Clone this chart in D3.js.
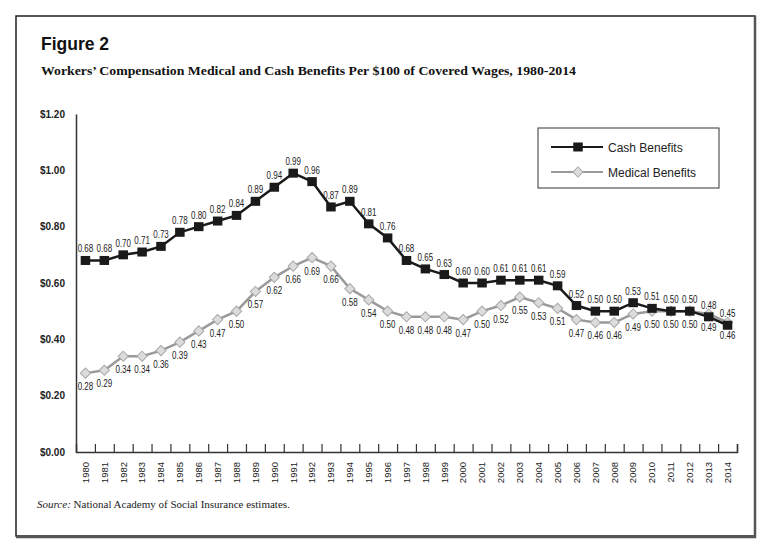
<!DOCTYPE html>
<html>
<head>
<meta charset="utf-8">
<script src="https://cdn.jsdelivr.net/npm/d3@7"></script>
<style>
  body { margin: 0; background: #fff; }
  svg { display: block; }
</style>
</head>
<body>
<script>
// chart data
const years = ["1980", "1981", "1982", "1983", "1984", "1985", "1986", "1987", "1988", "1989",
  "1990", "1991", "1992", "1993", "1994", "1995", "1996", "1997", "1998", "1999",
  "2000", "2001", "2002", "2003", "2004", "2005", "2006", "2007", "2008", "2009",
  "2010", "2011", "2012", "2013", "2014"];
const cash = [0.68, 0.68, 0.70, 0.71, 0.73, 0.78, 0.80, 0.82, 0.84, 0.89,
  0.94, 0.99, 0.96, 0.87, 0.89, 0.81, 0.76, 0.68, 0.65, 0.63,
  0.60, 0.60, 0.61, 0.61, 0.61, 0.59, 0.52, 0.50, 0.50, 0.53,
  0.51, 0.50, 0.50, 0.48, 0.45];
const medical = [0.28, 0.29, 0.34, 0.34, 0.36, 0.39, 0.43, 0.47, 0.50, 0.57,
  0.62, 0.66, 0.69, 0.66, 0.58, 0.54, 0.50, 0.48, 0.48, 0.48,
  0.47, 0.50, 0.52, 0.55, 0.53, 0.51, 0.47, 0.46, 0.46, 0.49,
  0.50, 0.50, 0.50, 0.49, 0.46];
const yTicks = [0, 0.2, 0.4, 0.6, 0.8, 1.0, 1.2];
const seriesNames = ["Cash Benefits", "Medical Benefits"];

const W = 778, H = 550;
const svg = d3.select("body").append("svg")
    .attr("width", W)
    .attr("height", H);

// outer frame, darker right/bottom edge
svg.append("rect")
    .attr("x", 16).attr("y", 16)
    .attr("width", 739).attr("height", 520)
    .attr("fill", "none")
    .attr("stroke", "#222")
    .attr("stroke-width", 1.5);
svg.append("path")
    .attr("d", "M755,16 V537 H16")
    .attr("fill", "none")
    .attr("stroke", "#555")
    .attr("stroke-width", 2.5);

// titles
svg.append("text")
    .attr("x", 41).attr("y", 50)
    .attr("font-family", "Liberation Sans, Arial, sans-serif")
    .attr("font-weight", "bold")
    .attr("font-size", 17.5)
    .attr("fill", "#111")
    .text("Figure 2");

svg.append("text")
    .attr("x", 41).attr("y", 75)
    .attr("font-family", "Liberation Serif, Times New Roman, serif")
    .attr("font-weight", "bold")
    .attr("font-size", 13.5)
    .attr("fill", "#111")
    .attr("textLength", 535)
    .attr("lengthAdjust", "spacingAndGlyphs")
    .text("Workers\u2019 Compensation Medical and Cash Benefits Per $100 of Covered Wages, 1980-2014");

const src = svg.append("text")
    .attr("x", 37).attr("y", 508)
    .attr("font-family", "Liberation Serif, Times New Roman, serif")
    .attr("font-size", 11)
    .attr("fill", "#222");
src.append("tspan").attr("font-style", "italic").text("Source:");
src.append("tspan").text(" National Academy of Social Insurance estimates.");

// scales
const plotLeft = 76, plotRight = 737, plotTop = 114, plotBottom = 452;
const x = d3.scaleBand().domain(years).range([plotLeft, plotRight]).padding(0);
const y = d3.scaleLinear().domain([0, 1.2]).range([plotBottom, plotTop]);
const xEdge = d3.scaleLinear().domain([0, years.length]).range([plotLeft, plotRight]);

// y axis
const yAxis = svg.append("g")
    .attr("transform", "translate(" + plotLeft + ",0)")
    .call(d3.axisLeft(y).tickValues(yTicks).tickSize(0).tickPadding(11)
        .tickFormat(d => "$" + d.toFixed(2)));
yAxis.select(".domain").attr("stroke", "#333").attr("stroke-width", 1.5);
yAxis.selectAll("text")
    .attr("font-family", "Liberation Sans, Arial, sans-serif")
    .attr("font-weight", "bold")
    .attr("font-size", 10)
    .attr("fill", "#222");

// x axis ticks at category edges
const xTicks = svg.append("g")
    .attr("transform", "translate(0," + plotBottom + ")")
    .call(d3.axisTop(xEdge).tickValues(d3.range(1, years.length + 1)).tickSize(8).tickFormat(""));
xTicks.select(".domain").attr("stroke", "#333").attr("stroke-width", 1.5);
xTicks.selectAll(".tick line").attr("stroke", "#333").attr("stroke-width", 1.2);

// x axis year labels
const xAxis = svg.append("g")
    .attr("transform", "translate(0," + plotBottom + ")")
    .call(d3.axisBottom(x).tickSize(0));
xAxis.select(".domain").remove();
xAxis.selectAll("text")
    .attr("transform", "rotate(-90)")
    .attr("text-anchor", "end")
    .attr("x", -10)
    .attr("y", 0)
    .attr("dy", "0.35em")
    .attr("font-family", "Liberation Sans, Arial, sans-serif")
    .attr("font-size", 9.5)
    .attr("fill", "#222");

const cx = (d, i) => x(years[i]) + x.bandwidth() / 2;

// medical line + diamonds
const line = d3.line().x((d, i) => cx(d, i)).y(d => y(d));
svg.append("path")
    .datum(medical)
    .attr("d", line)
    .attr("fill", "none")
    .attr("stroke", "#9a9a9a")
    .attr("stroke-width", 2.5);

svg.append("g").selectAll("rect")
    .data(medical)
    .enter().append("rect")
    .attr("x", -3.6).attr("y", -3.6)
    .attr("width", 7.2).attr("height", 7.2)
    .attr("transform", (d, i) => "translate(" + cx(d, i) + "," + y(d) + ") rotate(45)")
    .attr("fill", "#dcdcdc")
    .attr("stroke", "#a8a8a8")
    .attr("stroke-width", 1);

// cash line + squares
svg.append("path")
    .datum(cash)
    .attr("d", line)
    .attr("fill", "none")
    .attr("stroke", "#1a1a1a")
    .attr("stroke-width", 2.5);

svg.append("g").selectAll("rect")
    .data(cash)
    .enter().append("rect")
    .attr("x", (d, i) => cx(d, i) - 4.75)
    .attr("y", d => y(d) - 4.5)
    .attr("width", 9.5).attr("height", 9)
    .attr("fill", "#1a1a1a");

// data labels (condensed look via horizontal squeeze)
svg.append("g").selectAll("text")
    .data(cash)
    .enter().append("text")
    .attr("transform", (d, i) => "translate(" + cx(d, i) + "," + (y(d) - 8) + ") scale(0.8,1)")
    .attr("text-anchor", "middle")
    .attr("font-family", "Liberation Sans, Arial, sans-serif")
    .attr("font-size", 10)
    .attr("fill", "#222")
    .text(d => d.toFixed(2));

svg.append("g").selectAll("text")
    .data(medical)
    .enter().append("text")
    .attr("transform", (d, i) => "translate(" + cx(d, i) + "," + (y(d) + 17) + ") scale(0.8,1)")
    .attr("text-anchor", "middle")
    .attr("font-family", "Liberation Sans, Arial, sans-serif")
    .attr("font-size", 10)
    .attr("fill", "#222")
    .text(d => d.toFixed(2));

// legend
const lg = svg.append("g").attr("transform", "translate(538,128)");
lg.append("rect")
    .attr("width", 181).attr("height", 60)
    .attr("fill", "#fff")
    .attr("stroke", "#333")
    .attr("stroke-width", 1);

seriesNames.forEach((name, i) => {
  const ly = 19 + i * 25;
  const isCash = i === 0;
  lg.append("line")
      .attr("x1", 13).attr("x2", 65)
      .attr("y1", ly).attr("y2", ly)
      .attr("stroke", isCash ? "#1a1a1a" : "#9a9a9a")
      .attr("stroke-width", 2);
  if (isCash) {
    lg.append("rect")
        .attr("x", 40 - 4.75).attr("y", ly - 4.5)
        .attr("width", 9.5).attr("height", 9)
        .attr("fill", "#1a1a1a");
  } else {
    lg.append("rect")
        .attr("x", -3.6).attr("y", -3.6)
        .attr("width", 7.2).attr("height", 7.2)
        .attr("transform", "translate(40," + ly + ") rotate(45)")
        .attr("fill", "#dcdcdc")
        .attr("stroke", "#a8a8a8");
  }
  lg.append("text")
      .attr("x", 70).attr("y", ly + 4.5)
      .attr("font-family", "Liberation Sans, Arial, sans-serif")
      .attr("font-size", 12)
      .attr("fill", "#222")
      .text(name);
});
</script>
</body>
</html>
